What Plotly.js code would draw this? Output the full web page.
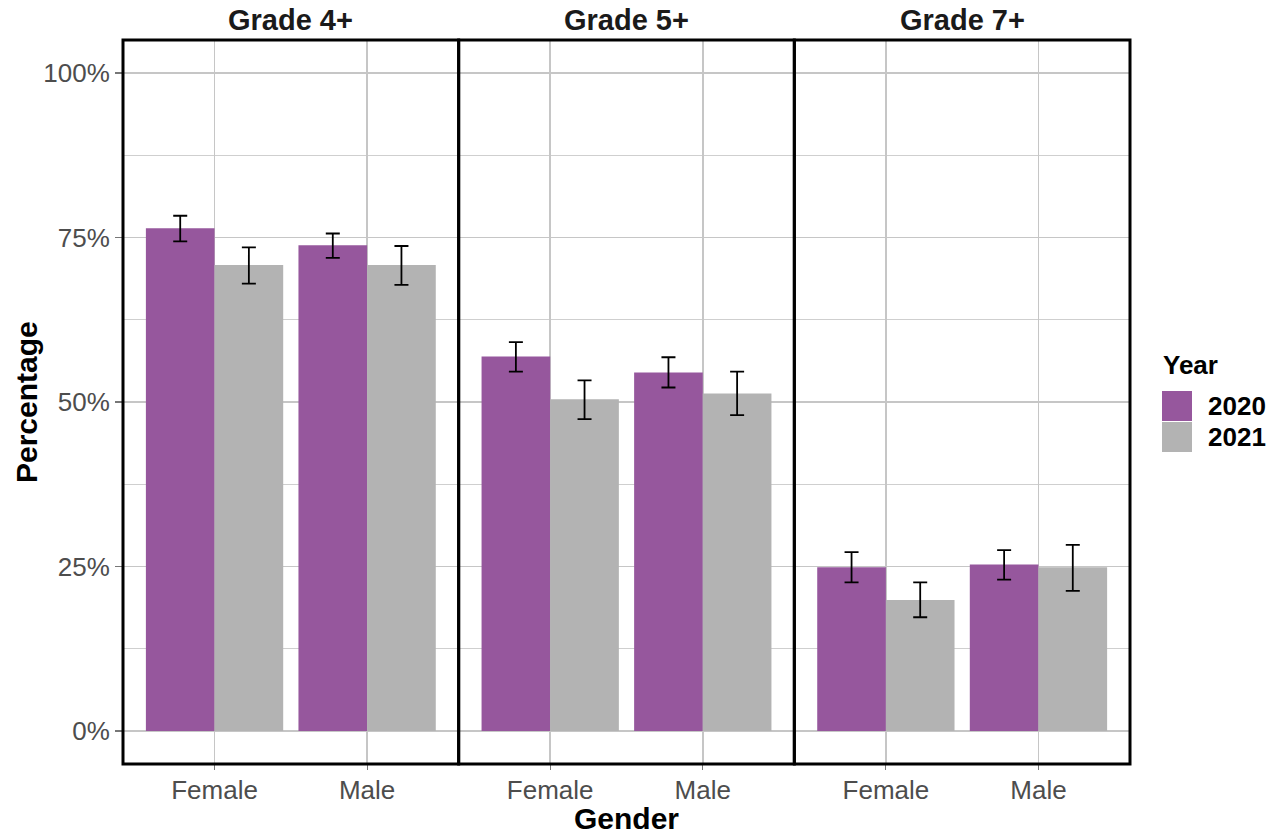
<!DOCTYPE html>
<html>
<head>
<meta charset="utf-8">
<script src="https://cdn.plot.ly/plotly-3.0.1.min.js"></script>
<style>
  html, body { margin: 0; padding: 0; background: #ffffff; }
  #chart { width: 1284px; height: 834px; }
</style>
</head>
<body>
<div id="chart"></div>
<script>
// ---- Data (percentages) ----
const grades = ['Grade 4+', 'Grade 5+', 'Grade 7+'];
const genders = ['Female', 'Male'];
const years = ['2020', '2021'];

const value2020 = [[76.4, 73.8], [56.9, 54.5], [24.9, 25.3]];
const upper2020 = [[78.3, 75.6], [59.1, 56.8], [27.2, 27.5]];
const lower2020 = [[74.4, 71.9], [54.6, 52.2], [22.6, 23.0]];

const value2021 = [[70.8, 70.8], [50.4, 51.3], [19.9, 24.9]];
const upper2021 = [[73.5, 73.7], [53.3, 54.6], [22.6, 28.3]];
const lower2021 = [[68.0, 67.8], [47.4, 48.0], [17.3, 21.3]];

const yTickVals = [0, 0.25, 0.5, 0.75, 1];
const yTickText = ['0%', '25%', '50%', '75%', '100%'];

// ---- Styling ----
const colors = { '2020': '#96579D', '2021': '#B3B3B3' };
const FONT = 'Liberation Sans, Arial, Helvetica, sans-serif';
const gridColor = '#c6c6c6';

const seriesData = {
  '2020': { v: value2020, u: upper2020, l: lower2020 },
  '2021': { v: value2021, u: upper2021, l: lower2021 }
};

const traces = [];
grades.forEach((g, gi) => {
  const xa = gi === 0 ? 'x' : 'x' + (gi + 1);
  years.forEach(yr => {
    const s = seriesData[yr];
    const vals = s.v[gi].map(p => p / 100);
    traces.push({
      type: 'bar',
      name: yr,
      legendgroup: yr,
      showlegend: false,
      x: genders,
      y: vals,
      xaxis: xa,
      yaxis: 'y',
      offsetgroup: yr,
      marker: { color: colors[yr], line: { width: 0 } },
      error_y: {
        type: 'data',
        symmetric: false,
        array: s.u[gi].map((u, i) => (u - s.v[gi][i]) / 100),
        arrayminus: s.l[gi].map((l, i) => (s.v[gi][i] - l) / 100),
        color: '#000000',
        thickness: 1.8,
        width: 7
      },
      hoverinfo: 'x+y+name'
    });
  });
});

const xBase = {
  type: 'category',
  range: [-0.6, 1.6],
  showgrid: true,
  gridcolor: gridColor,
  gridwidth: 1.6,
  zeroline: false,
  showline: false,
  ticks: 'outside',
  ticklen: 5,
  tickwidth: 1.2,
  tickcolor: '#777777',
  ticklabelstandoff: -2,
  tickfont: { family: FONT, size: 26, color: '#4D4D4D' },
  anchor: 'y',
  fixedrange: true
};

const layout = {
  width: 1284,
  height: 834,
  margin: { l: 123, r: 154, t: 40, b: 70 },
  paper_bgcolor: '#ffffff',
  plot_bgcolor: '#ffffff',
  showlegend: false,
  barmode: 'group',
  bargap: 0.1,
  bargroupgap: 0,
  font: { family: FONT, color: '#000000' },
  xaxis: Object.assign({}, xBase, { domain: [0, 1 / 3] }),
  xaxis2: Object.assign({}, xBase, { domain: [1 / 3, 2 / 3] }),
  xaxis3: Object.assign({}, xBase, { domain: [2 / 3, 1] }),
  yaxis: {
    range: [-0.05, 1.05],
    tickvals: yTickVals,
    ticktext: yTickText,
    showgrid: true,
    gridcolor: gridColor,
    gridwidth: 1.6,
    minor: { dtick: 0.125, tick0: 0, showgrid: true, gridcolor: '#cfcfcf', gridwidth: 1.1, ticks: '' },
    zeroline: false,
    showline: false,
    ticks: 'outside',
    ticklen: 7,
    tickwidth: 1.2,
    tickcolor: '#777777',
    tickfont: { family: FONT, size: 26, color: '#4D4D4D' },
    anchor: 'x',
    fixedrange: true
  },
  shapes: [],
  annotations: []
};

// Panel borders and strip titles
['x', 'x2', 'x3'].forEach((xa, i) => {
  layout.shapes.push({
    type: 'rect', xref: xa + ' domain', yref: 'y domain',
    x0: 0, x1: 1, y0: 0, y1: 1,
    line: { color: '#000000', width: 3 }, fillcolor: 'rgba(0,0,0,0)', layer: 'above'
  });
  layout.annotations.push({
    text: '<b>' + grades[i] + '</b>', xref: xa + ' domain', yref: 'paper',
    x: 0.5, y: 1, xanchor: 'center', yanchor: 'middle', yshift: 20,
    showarrow: false, font: { family: FONT, size: 29, color: '#1A1A1A' }
  });
});

// Axis titles
layout.annotations.push({
  text: '<b>Gender</b>', xref: 'paper', yref: 'paper', x: 0.5, y: 0,
  xanchor: 'center', yanchor: 'middle', yshift: -54, showarrow: false,
  font: { family: FONT, size: 30, color: '#000000' }
});
layout.annotations.push({
  text: '<b>Percentage</b>', xref: 'paper', yref: 'paper', x: 0, y: 0.5,
  xanchor: 'center', yanchor: 'middle', xshift: -97, textangle: -90, showarrow: false,
  font: { family: FONT, size: 30, color: '#000000' }
});

// Legend (drawn manually to match the large ggplot keys)
const plotW = 1284 - 123 - 154, plotH = 834 - 40 - 70;
const px = x => (x - 123) / plotW;
const py = y => (834 - 70 - y) / plotH;
layout.annotations.push({
  text: '<b>Year</b>', xref: 'paper', yref: 'paper', x: px(1161), y: py(365),
  xanchor: 'left', yanchor: 'middle', showarrow: false,
  font: { family: FONT, size: 26, color: '#000000' }
});
const keyTops = [391, 422];
years.forEach((yr, i) => {
  layout.shapes.push({
    type: 'rect', xref: 'paper', yref: 'paper',
    x0: px(1162), x1: px(1192), y0: py(keyTops[i] + 30), y1: py(keyTops[i]),
    line: { width: 0 }, fillcolor: colors[yr], layer: 'above'
  });
  layout.annotations.push({
    text: '<b>' + yr + '</b>', xref: 'paper', yref: 'paper', x: px(1206), y: py(keyTops[i] + 15),
    xanchor: 'left', yanchor: 'middle', showarrow: false,
    font: { family: FONT, size: 26, color: '#000000' }
  });
});

Plotly.newPlot('chart', traces, layout, { displayModeBar: false, staticPlot: true });
</script>
</body>
</html>
